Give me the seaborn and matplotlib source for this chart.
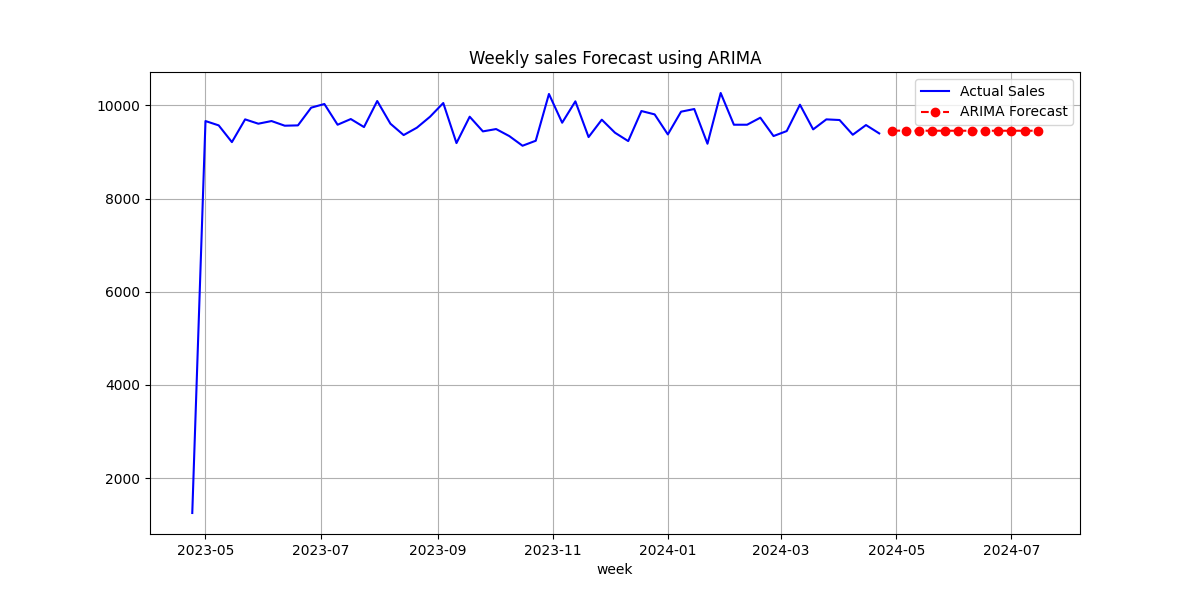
import pandas as pd
import matplotlib
matplotlib.use('Agg')
import matplotlib.pyplot as plt
import seaborn as sns

# Weekly actual sales
actual_start = '2023-04-24'
actual_sales = [1250, 9663, 9570, 9211, 9699, 9606, 9663, 9563, 9570, 9950,
                10029, 9584, 9706, 9534, 10093, 9606, 9362, 9520, 9756, 10050,
                9190, 9756, 9441, 9491, 9340, 9133, 9240, 10244, 9627, 10086,
                9319, 9692, 9412, 9233, 9878, 9806, 9376, 9864, 9921, 9176,
                10265, 9584, 9584, 9735, 9341, 9448, 10014, 9484, 9699, 9685,
                9369, 9577, 9398]

# ARIMA forecast for the next 12 weeks
forecast_start = '2024-04-29'
forecast_sales = [9458, 9455, 9456, 9455, 9455, 9455, 9455, 9455, 9455, 9455, 9455, 9455]

actual = pd.DataFrame({
    'week': pd.date_range(actual_start, periods=len(actual_sales), freq='W-MON'),
    'sales': actual_sales,
})
forecast = pd.DataFrame({
    'week': pd.date_range(forecast_start, periods=len(forecast_sales), freq='W-MON'),
    'sales': forecast_sales,
})

fig, ax = plt.subplots(figsize=(12, 6), dpi=100)

sns.lineplot(data=actual, x='week', y='sales', color='blue', label='Actual Sales', ax=ax)
sns.lineplot(data=forecast, x='week', y='sales', color='red', linestyle='--', marker='o',
             markeredgecolor='red', markeredgewidth=1.0, markersize=6,
             label='ARIMA Forecast', ax=ax)

ax.set_title('Weekly sales Forecast using ARIMA')
ax.set_xlabel('week')
ax.set_ylabel('')
ax.grid(True)
ax.legend(loc='upper right')

plt.savefig('out.png')
